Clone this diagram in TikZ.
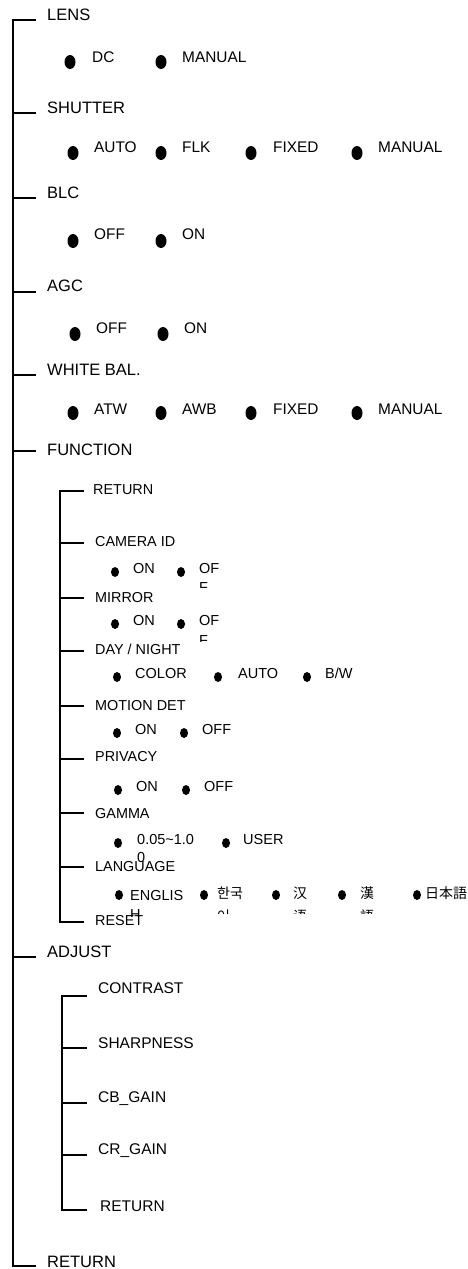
\documentclass[tikz,border=0pt]{standalone}
\usepackage{fontspec}
\setmainfont{Liberation Sans}
\newfontfamily\krfont{Noto Sans CJK KR}
\newfontfamily\scfont{Noto Sans CJK SC}
\newfontfamily\tcfont{Noto Sans CJK TC}
\newfontfamily\jpfont{Noto Sans CJK JP}
\usetikzlibrary{shapes.geometric}
\tikzset{
  lbl/.style={anchor=west, inner sep=0pt, text depth=0pt},
  mainlbl/.style={lbl, font=\fontsize{16.5}{19}\selectfont, text height=11.8pt},
  mainopt/.style={lbl, font=\fontsize{15.4}{18}\selectfont, text height=11pt},
  sublbl/.style={lbl, font=\fontsize{14.4}{17}\selectfont, text height=10.3pt},
  subopt/.style={lbl, font=\fontsize{14.5}{17}\selectfont, text height=10.4pt},
  adjlbl/.style={lbl, font=\fontsize{15.5}{18}\selectfont, text height=11.1pt},
  cjk/.style={anchor=base west, inner sep=0pt, font=\fontsize{14}{17}\selectfont},
  bigdot/.style={ellipse, fill=black, draw=none, inner sep=0pt, minimum width=11pt, minimum height=14pt},
  smalldot/.style={ellipse, fill=black, draw=none, inner sep=0pt, minimum width=8pt, minimum height=10pt},
  trunk/.style={line width=1.8pt},
  tick/.style={line width=1.5pt},
}
\begin{document}
\begin{tikzpicture}[x=1pt,y=-1pt]
\useasboundingbox (0,0) rectangle (468,1269);

% ---------- main tree ----------
\coordinate (mLENS) at (13,20);   \coordinate (eLENS) at (36,20);
\coordinate (mSHUT) at (13,113);  \coordinate (eSHUT) at (36,113);
\coordinate (mBLC) at (13,198);   \coordinate (eBLC) at (36,198);
\coordinate (mAGC) at (13,292);   \coordinate (eAGC) at (36,292);
\coordinate (mWB) at (13,375);    \coordinate (eWB) at (36,375);
\coordinate (mFUN) at (13,451);   \coordinate (eFUN) at (36,451);
\coordinate (mADJ) at (13,957);   \coordinate (eADJ) at (36,957);
\coordinate (mRET) at (13,1266);  \coordinate (eRET) at (36,1266);

\draw[trunk] (eLENS) -- (mLENS) -- (mRET) -- (eRET);
\draw[tick] (mSHUT) -- (eSHUT);
\draw[tick] (mBLC) -- (eBLC);
\draw[tick] (mAGC) -- (eAGC);
\draw[tick] (mWB) -- (eWB);
\draw[tick] (mFUN) -- (eFUN);
\draw[tick] (mADJ) -- (eADJ);

\node[mainlbl] (lens) at (47,15) {LENS};
\node[mainlbl] (shutter) at (47,108) {SHUTTER};
\node[mainlbl] (blc) at (47,193) {BLC};
\node[mainlbl] (agc) at (47,286) {AGC};
\node[mainlbl] (wb) at (47,370) {WHITE BAL.};
\node[mainlbl] (function) at (47,450) {FUNCTION};
\node[mainlbl] (adjust) at (47,952) {ADJUST};
\node[mainlbl] (return) at (47,1262) {RETURN};

% LENS options
\node[bigdot] (dLens1) at (70,62) {};   \node[mainopt] (tLens1) at (92,57) {DC};
\node[bigdot] (dLens2) at (161,62) {};  \node[mainopt] (tLens2) at (182,57) {MANUAL};
% SHUTTER options
\node[bigdot] (dSh1) at (73,153) {};  \node[mainopt] (tSh1) at (94,147) {AUTO};
\node[bigdot] (dSh2) at (161,153) {}; \node[mainopt] (tSh2) at (182,147) {FLK};
\node[bigdot] (dSh3) at (251,153) {}; \node[mainopt] (tSh3) at (273,147) {FIXED};
\node[bigdot] (dSh4) at (357,153) {}; \node[mainopt] (tSh4) at (378,147) {MANUAL};
% BLC options
\node[bigdot] (dBlc1) at (73,241) {};  \node[mainopt] (tBlc1) at (94,234) {OFF};
\node[bigdot] (dBlc2) at (161,241) {}; \node[mainopt] (tBlc2) at (182,234) {ON};
% AGC options
\node[bigdot] (dAgc1) at (75,334) {};  \node[mainopt] (tAgc1) at (96,328) {OFF};
\node[bigdot] (dAgc2) at (163,334) {}; \node[mainopt] (tAgc2) at (184,328) {ON};
% WHITE BAL options
\node[bigdot] (dWb1) at (73,413) {};  \node[mainopt] (tWb1) at (94,409) {ATW};
\node[bigdot] (dWb2) at (161,413) {}; \node[mainopt] (tWb2) at (182,409) {AWB};
\node[bigdot] (dWb3) at (251,413) {}; \node[mainopt] (tWb3) at (273,409) {FIXED};
\node[bigdot] (dWb4) at (357,413) {}; \node[mainopt] (tWb4) at (378,409) {MANUAL};

% ---------- FUNCTION subtree ----------
\coordinate (fRET) at (60,491);  \coordinate (gRET) at (84,491);
\coordinate (fCAM) at (60,543);  \coordinate (gCAM) at (84,543);
\coordinate (fMIR) at (60,598);  \coordinate (gMIR) at (84,598);
\coordinate (fDAY) at (60,651);  \coordinate (gDAY) at (84,651);
\coordinate (fMOT) at (60,706);  \coordinate (gMOT) at (84,706);
\coordinate (fPRI) at (60,759);  \coordinate (gPRI) at (84,759);
\coordinate (fGAM) at (60,813);  \coordinate (gGAM) at (84,813);
\coordinate (fLAN) at (60,867);  \coordinate (gLAN) at (84,867);
\coordinate (fRES) at (60,922);  \coordinate (gRES) at (84,922);

\draw[trunk] (gRET) -- (fRET) -- (fRES) -- (gRES);
\draw[tick] (fCAM) -- (gCAM);
\draw[tick] (fMIR) -- (gMIR);
\draw[tick] (fDAY) -- (gDAY);
\draw[tick] (fMOT) -- (gMOT);
\draw[tick] (fPRI) -- (gPRI);
\draw[tick] (fGAM) -- (gGAM);
\draw[tick] (fLAN) -- (gLAN);

\node[sublbl] (fReturn) at (93,489) {RETURN};
\node[sublbl] (camid) at (95,541) {CAMERA ID};
\node[sublbl] (mirror) at (95,597) {MIRROR};
\node[sublbl] (daynight) at (95,649) {DAY / NIGHT};
\node[sublbl] (motion) at (95,705) {MOTION DET};
\node[sublbl] (privacy) at (95,756) {PRIVACY};
\node[sublbl] (gamma) at (95,813) {GAMMA};
\node[sublbl] (language) at (95,866) {LANGUAGE};
\node[sublbl] (reset) at (95,920) {RESET};

% CAMERA ID options
\node[smalldot] (dCam1) at (115,572) {}; \node[subopt] (tCam1) at (133,568) {ON};
\node[smalldot] (dCam2) at (181,572) {}; \node[subopt] (tCam2) at (199,568) {OF};
\begin{scope}
  \clip (190,578) rectangle (220,587);
  \node[subopt] (tCam2b) at (199,587) {F};
\end{scope}
% MIRROR options
\node[smalldot] (dMir1) at (115,624) {}; \node[subopt] (tMir1) at (133,620) {ON};
\node[smalldot] (dMir2) at (181,624) {}; \node[subopt] (tMir2) at (199,620) {OF};
\begin{scope}
  \clip (190,630) rectangle (220,641);
  \node[subopt] (tMir2b) at (199,640) {F};
\end{scope}
% DAY / NIGHT options
\node[smalldot] (dDay1) at (117,677) {}; \node[subopt] (tDay1) at (135,673) {COLOR};
\node[smalldot] (dDay2) at (218,677) {}; \node[subopt] (tDay2) at (238,673) {AUTO};
\node[smalldot] (dDay3) at (307,677) {}; \node[subopt] (tDay3) at (325,673) {B/W};
% MOTION DET options
\node[smalldot] (dMot1) at (117,733) {}; \node[subopt] (tMot1) at (135,729) {ON};
\node[smalldot] (dMot2) at (184,733) {}; \node[subopt] (tMot2) at (202,729) {OFF};
% PRIVACY options
\node[smalldot] (dPri1) at (118,790) {}; \node[subopt] (tPri1) at (136,786) {ON};
\node[smalldot] (dPri2) at (186,790) {}; \node[subopt] (tPri2) at (204,786) {OFF};
% GAMMA options
\node[smalldot] (dGam1) at (118,843) {}; \node[subopt] (tGam1) at (137,839) {0.05\textasciitilde1.0};
\node[smalldot] (dGam2) at (226,843) {}; \node[subopt] (tGam2) at (243,839) {USER};
\begin{scope}
  \clip (130,848) rectangle (150,861);
  \node[subopt] (tGam1b) at (137,857) {0};
\end{scope}
% LANGUAGE options
\node[smalldot] (dLan1) at (119,895) {}; \node[subopt] (tLan1) at (130,895) {ENGLIS};
\begin{scope}
  \clip (125,905) rectangle (150,916);
  \node[subopt] (tLan1b) at (130,914) {H};
\end{scope}
\node[smalldot] (dLan2) at (204,895) {}; \node[cjk] (tLan2) at (217,898) {\krfont 한국};
\node[smalldot] (dLan3) at (276,895) {}; \node[cjk] (tLan3) at (293,898) {\scfont 汉};
\node[smalldot] (dLan4) at (342,895) {}; \node[cjk] (tLan4) at (360,898) {\tcfont 漢};
\node[smalldot] (dLan5) at (417,895) {}; \node[cjk] (tLan5) at (425,898) {\jpfont 日本語};
\begin{scope}
  \clip (210,906) rectangle (380,913);
  \node[cjk] (tLan2b) at (217,921) {\krfont 어};
  \node[cjk] (tLan3b) at (293,921) {\scfont 语};
  \node[cjk] (tLan4b) at (360,921) {\tcfont 語};
\end{scope}

% ---------- ADJUST subtree ----------
\coordinate (aCON) at (62,996);   \coordinate (bCON) at (87,996);
\coordinate (aSHA) at (62,1048);  \coordinate (bSHA) at (87,1048);
\coordinate (aCB) at (62,1103);   \coordinate (bCB) at (87,1103);
\coordinate (aCR) at (62,1155);   \coordinate (bCR) at (87,1155);
\coordinate (aRET) at (62,1210);  \coordinate (bRET) at (87,1210);

\draw[trunk] (bCON) -- (aCON) -- (aRET) -- (bRET);
\draw[tick] (aSHA) -- (bSHA);
\draw[tick] (aCB) -- (bCB);
\draw[tick] (aCR) -- (bCR);

\node[adjlbl] (contrast) at (98,988) {CONTRAST};
\node[adjlbl] (sharp) at (98,1043) {SHARPNESS};
\node[adjlbl] (cbgain) at (98,1097) {CB\_GAIN};
\node[adjlbl] (crgain) at (98,1149) {CR\_GAIN};
\node[adjlbl] (aReturn) at (100,1206) {RETURN};
\end{tikzpicture}
\end{document}
